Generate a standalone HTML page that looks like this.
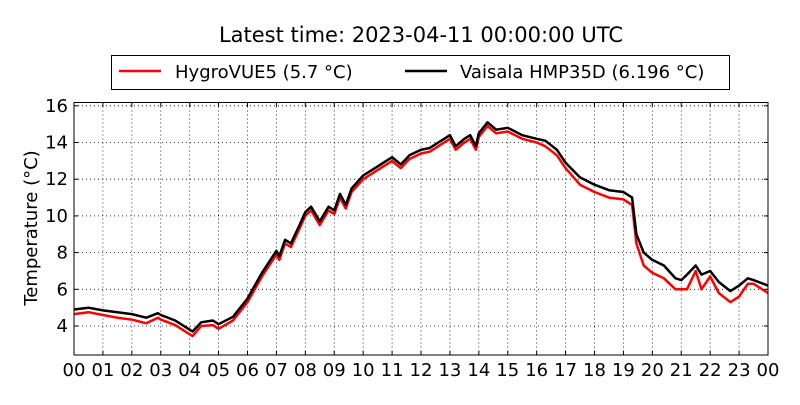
<!DOCTYPE html>
<html><head><meta charset="utf-8"><style>
body{margin:0;background:#fff;}
svg text{font-family:"DejaVu Sans","Liberation Sans",sans-serif;fill:#000;}
</style></head><body>
<svg id="chart" width="800" height="400" xmlns="http://www.w3.org/2000/svg">
<text x="421" y="42" font-size="21" text-anchor="middle">Latest time: 2023-04-11 00:00:00 UTC</text>
<g>
<rect x="111.5" y="55.5" width="618" height="34" fill="#fff" stroke="#000" stroke-width="1"/>
<g>
<line x1="119" y1="71" x2="161" y2="71" stroke="#f00" stroke-width="2.5"/>
<text x="175" y="78" font-size="18">HygroVUE5 (5.7 °C)</text></g>
<g>
<line x1="405" y1="71" x2="447" y2="71" stroke="#000" stroke-width="2.5"/>
<text x="460" y="78" font-size="18">Vaisala HMP35D (6.196 °C)</text></g>
</g>
<text transform="translate(37,228) rotate(-90)" font-size="18" text-anchor="middle">Temperature (°C)</text>
<g id="grid"></g><g id="series"></g><g id="ticks"></g>
<rect x="74" y="102.5" width="694" height="252.5" fill="none" stroke="#000" stroke-width="1"/>
</svg>
<script>
const hoursX = [0,0.5,1,1.5,2,2.5,2.9,3,3.5,4,4.1,4.4,4.8,5,5.5,6,6.5,7,7.1,7.3,7.5,7.8,8,8.2,8.5,8.8,9,9.2,9.4,9.6,10,10.5,11,11.3,11.6,12,12.3,12.6,13,13.2,13.5,13.7,13.9,14,14.3,14.6,15,15.5,16,16.3,16.7,17,17.5,18,18.5,19,19.3,19.45,19.7,20,20.4,20.8,21,21.2,21.5,21.7,22,22.3,22.7,23,23.3,23.5,24];
const hmp35d = [4.9,5.0,4.85,4.75,4.65,4.45,4.7,4.6,4.3,3.8,3.7,4.2,4.3,4.1,4.5,5.5,6.9,8.1,7.8,8.7,8.5,9.5,10.2,10.5,9.7,10.5,10.3,11.2,10.6,11.5,12.2,12.7,13.2,12.8,13.3,13.6,13.7,14.0,14.4,13.8,14.2,14.4,13.8,14.5,15.1,14.7,14.8,14.4,14.2,14.1,13.6,12.9,12.1,11.7,11.4,11.3,11.0,9.0,8.0,7.6,7.3,6.6,6.5,6.8,7.3,6.8,7.0,6.4,5.9,6.2,6.6,6.5,6.2];
const hygrovue5 = [4.65,4.75,4.6,4.45,4.35,4.15,4.45,4.35,4.05,3.55,3.45,4.0,4.05,3.85,4.3,5.3,6.7,7.9,7.6,8.5,8.3,9.3,10.0,10.3,9.5,10.3,10.1,11.0,10.4,11.3,12.0,12.5,13.0,12.6,13.1,13.4,13.5,13.8,14.2,13.6,14.0,14.2,13.6,14.3,14.9,14.5,14.6,14.2,14.0,13.8,13.3,12.6,11.7,11.3,11.0,10.9,10.6,8.5,7.3,6.9,6.6,6.0,6.0,6.0,7.0,6.0,6.7,5.8,5.3,5.6,6.3,6.3,5.8];
const yTicks = [4,6,8,10,12,14,16];
const xTickLabels = ["00","01","02","03","04","05","06","07","08","09","10","11","12","13","14","15","16","17","18","19","20","21","22","23","00"];
const X0=74,X1=768,Y0=355,Y1=102.5,YMIN=2.42,YMAX=16.18;
const sx=h=>X0+(X1-X0)*h/24;
const sy=v=>Y0-(Y0-Y1)*(v-YMIN)/(YMAX-YMIN);
const NS="http://www.w3.org/2000/svg";
const grid=document.getElementById('grid'),ticks=document.getElementById('ticks'),series=document.getElementById('series');
function mk(tag,attrs,parent){const e=document.createElementNS(NS,tag);for(const k in attrs)e.setAttribute(k,attrs[k]);parent.appendChild(e);return e;}
yTicks.forEach(v=>{const y=sy(v);
const g=mk('line',{x1:X0,x2:X1,y1:y,y2:y,stroke:'#000','stroke-width':0.8,'stroke-dasharray':'1,3'},grid);


mk('line',{x1:X0,x2:X0+4,y1:y,y2:y,stroke:'#000'},ticks);
mk('line',{x1:X1-4,x2:X1,y1:y,y2:y,stroke:'#000'},ticks);
const t=mk('text',{x:68,y:y+6,'font-size':18,'text-anchor':'end'},ticks);t.textContent=v;


});
xTickLabels.forEach((l,i)=>{const x=sx(i);
if(i>0&&i<24){const g=mk('line',{x1:x,x2:x,y1:Y1,y2:Y0,stroke:'#000','stroke-width':0.8,'stroke-dasharray':'1,3'},grid);

}
mk('line',{x1:x,x2:x,y1:Y0,y2:Y0-4,stroke:'#000'},ticks);
mk('line',{x1:x,x2:x,y1:Y1,y2:Y1+4,stroke:'#000'},ticks);
const t=mk('text',{x:x,y:376,'font-size':18,'text-anchor':'middle'},ticks);t.textContent=l;


});
function line(vals,color,name){const d=vals.map((v,i)=>(i?'L':'M')+sx(hoursX[i]).toFixed(1)+','+sy(v).toFixed(1)).join('');
const p=mk('path',{d:d,fill:'none',stroke:color,'stroke-width':2.5,'stroke-linejoin':'round'},series);

}
line(hygrovue5,'#f00','hygrovue5-line');
line(hmp35d,'#000','hmp35d-line');
</script>
</body></html>
